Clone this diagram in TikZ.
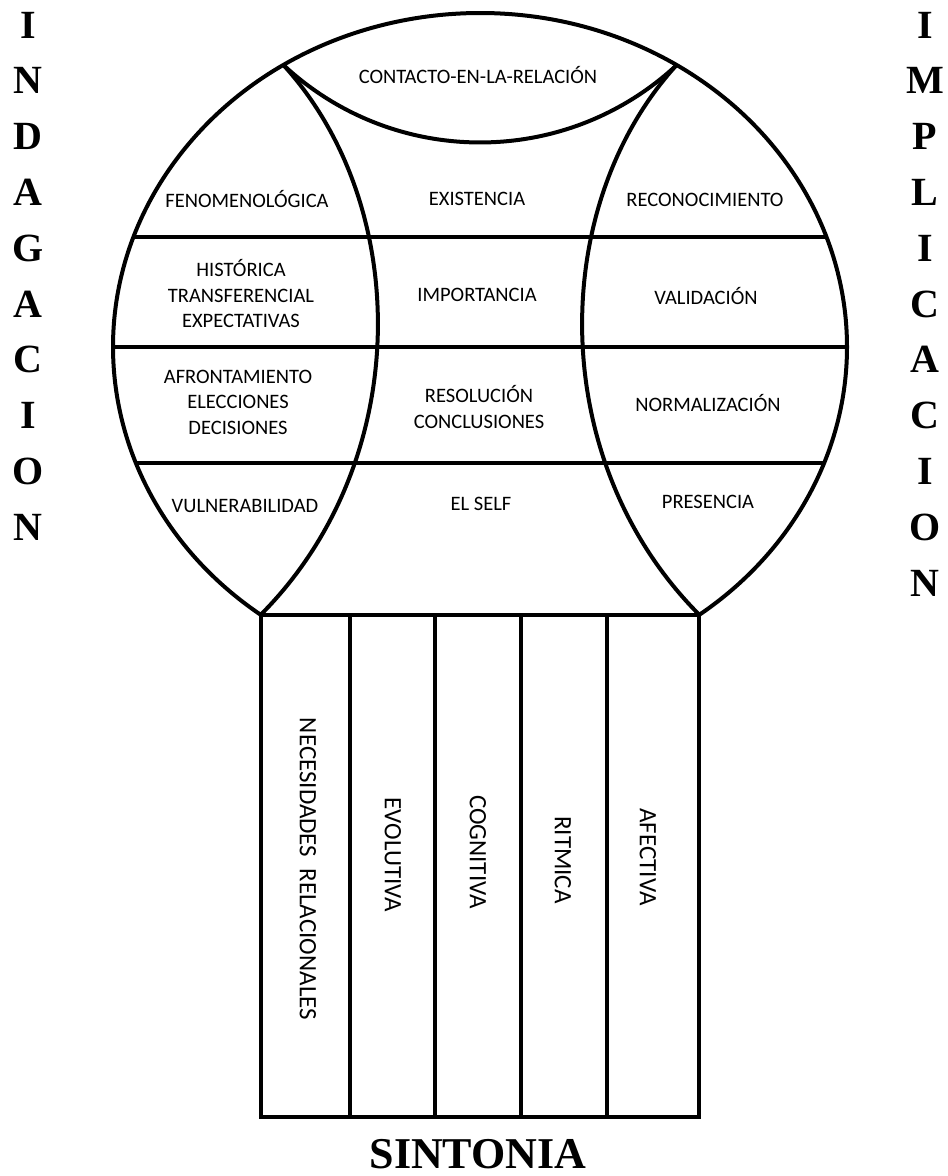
\documentclass[tikz,border=0pt]{standalone}
\usepackage{fontspec}
\setmainfont{Liberation Serif}
\newfontfamily\calfont{Carlito}
\usetikzlibrary{positioning}

\begin{document}
\begin{tikzpicture}[x=1pt, y=1pt, line width=4pt,
    celltext/.style={font=\calfont\fontsize{20.5}{25.5}\selectfont,
      align=center, inner sep=0pt},
    bandtext/.style={font=\calfont\fontsize{25}{30}\selectfont, rotate=-90,
      inner sep=0pt},
    sideletter/.style={font=\bfseries\fontsize{40}{40}\selectfont,
      inner sep=0pt},
    bigtitle/.style={font=\bfseries\fontsize{44}{44}\selectfont,
      inner sep=0pt}]

    \useasboundingbox (0,0) rectangle (948,1176);

    % Corner points of the globe
    \coordinate (bl) at (260.7,561.2); \coordinate (br) at (699.3,561.2);
    \coordinate (tl) at (283.4,1111); \coordinate (tr) at (676.6,1111);
    \coordinate (fl) at (260.7,59); \coordinate (fr) at (699.3,59);

    % Outer outline
    \draw (bl) arc[start angle=233.3, end angle=-53.3, x radius=367,
    y radius=334];

    % Rows, cut by the outline
    \begin{scope}
      \clip (480,829) ellipse [x radius=367, y radius=334];
      \foreach \y in {939,829,713} \draw (100,\y) -- (860,\y);
    \end{scope}

    % Inner arcs
    \draw (tl) .. controls (412,970) and (414,715) .. (bl);
    \draw (tr) .. controls (548,970) and (546,715) .. (br);

    % Top lens
    \draw (tl) arc[start angle=227, end angle=313, radius=288.4];

    % Columns below
    \draw (bl) -- (br) -- (fr) -- (fl) -- cycle;
    \foreach \x in {350,435,521,607} \draw (\x,561.2) -- (\x,59);

    % Labels inside the globe
    \node[celltext] (contacto) at (478,1101) {CONTACTO-EN-LA-RELACIÓN};
    \node[celltext] (fenom) at (247,977) {FENOMENOLÓGICA};
    \node[celltext] (exist) at (477,977) {EXISTENCIA};
    \node[celltext] (recon) at (705,976) {RECONOCIMIENTO};
    \node[celltext] (hist) at (241,882) {HISTÓRICA\\TRANSFERENCIAL\\EXPECTATIVAS};
    \node[celltext] (import) at (477,881) {IMPORTANCIA};
    \node[celltext] (valid) at (706,880) {VALIDACIÓN};
    \node[celltext] (afront) at (238,774) {AFRONTAMIENTO\\ELECCIONES\\DECISIONES};
    \node[celltext] (resol) at (479,769) {RESOLUCIÓN\\CONCLUSIONES};
    \node[celltext] (normal) at (708,773) {NORMALIZACIÓN};
    \node[celltext] (vulner) at (245,670) {VULNERABILIDAD};
    \node[celltext] (self) at (481,672) {EL SELF};
    \node[celltext] (presen) at (708,674) {PRESENCIA};

    % Labels in the columns
    \node[bandtext] (necesid) at (308,307) {NECESIDADES\ \ RELACIONALES};
    \node[bandtext] (evol) at (393,321) {EVOLUTIVA};
    \node[bandtext] (cogn) at (478,324) {COGNITIVA};
    \node[bandtext] (ritm) at (563,316) {RITMICA};
    \node[bandtext] (afect) at (648,319) {AFECTIVA};

    % Side words
    \foreach \l [count=\i from 0] in {I,N,D,A,G,A,C,I,O,N}
      \node[sideletter] (ind\i) at (28,1151-55.8*\i) {\l};
    \foreach \l [count=\i from 0] in {I,M,P,L,I,C,A,C,I,O,N}
      \node[sideletter] (imp\i) at (925,1151-55.8*\i) {\l};

    % Bottom word
    \node[bigtitle] (sintonia) at (478,22) {SINTONIA};

\end{tikzpicture}
\end{document}
